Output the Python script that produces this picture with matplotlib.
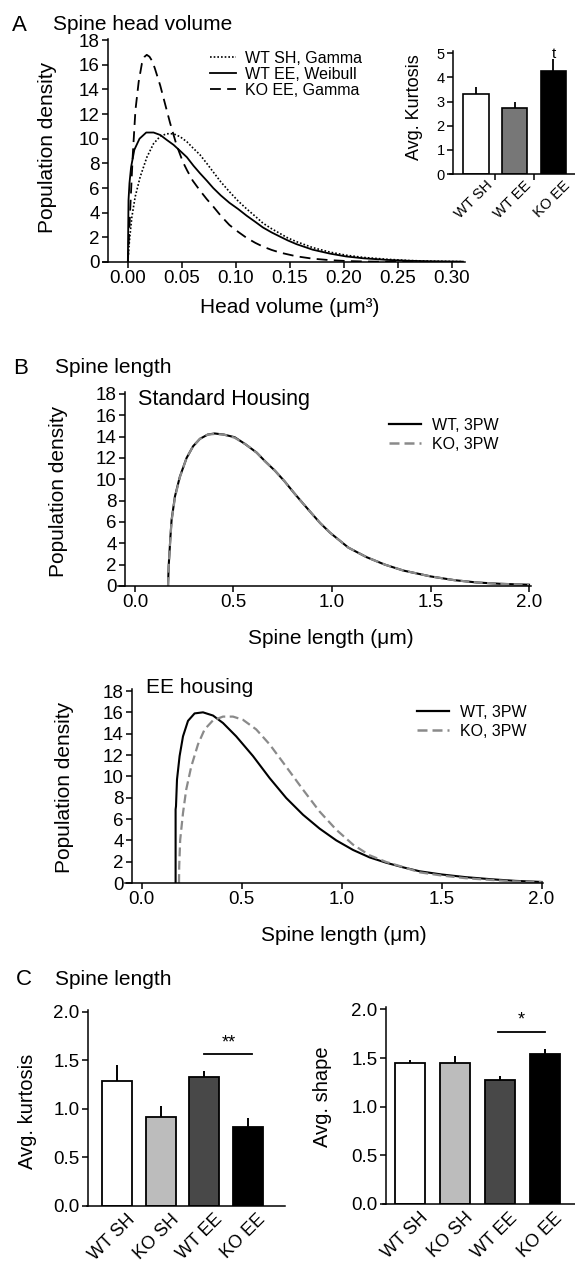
import matplotlib
matplotlib.use('Agg')
import matplotlib.pyplot as plt
from matplotlib.lines import Line2D
from matplotlib.transforms import ScaledTranslation

plt.rcParams['font.family'] = ['Liberation Sans', 'DejaVu Sans']
plt.rcParams['axes.linewidth'] = 1.1

# ---- Panel A: spine head volume densities ----
a_ko_x = [0, .002, .0045, .007, .010, .013, .0155, .0175, .020, .0225, .025, .0275,
          .030, .033, .036, .039, .042, .045, .048, .051, .055, .060, .0667, .073,
          .079, .086, .094, .102, .110, .118, .125, .133, .141, .156, .171, .187,
          .202, .220, .240, .260, .280]
a_ko_y = [0, 3.9, 8.6, 12.3, 14.6, 16.1, 16.65, 16.8, 16.65, 16.3, 15.7, 15.0,
          14.3, 13.3, 12.3, 11.3, 10.4, 9.5, 8.8, 8.1, 7.4, 6.6, 5.8, 5.1,
          4.5, 3.75, 3.0, 2.45, 1.95, 1.55, 1.25, 0.98, 0.76, 0.46, 0.27, 0.15,
          0.08, 0.04, 0.02, 0.01, 0.0]
a_wtee_x = [0, .0006, .0015, .003, .006, .0108, .017, .0238, .030, .036, .0423,
            .0485, .0546, .0608, .0667, .073, .079, .086, .094, .102, .110, .118,
            .125, .133, .141, .148, .156, .171, .187, .202, .218, .240, .260,
            .280, .310]
a_wtee_y = [0, 5.0, 6.4, 7.7, 9.1, 10.0, 10.5, 10.5, 10.3, 9.9, 9.5,
            9.0, 8.5, 7.8, 7.2, 6.6, 6.0, 5.4, 4.8, 4.3, 3.75, 3.25,
            2.8, 2.4, 2.05, 1.75, 1.45, 1.0, 0.68, 0.45, 0.3, 0.17, 0.1,
            0.06, 0.03]
a_wtsh_x = [0, .0015, .0037, .0068, .0114, .0176, .0238, .030, .0361, .0423, .0485,
            .0546, .0608, .0667, .073, .079, .086, .094, .102, .110, .118, .125,
            .133, .141, .148, .156, .171, .187, .202, .218, .240, .260, .280, .310]
a_wtsh_y = [0, 1.76, 3.65, 5.3, 6.9, 8.5, 9.6, 10.2, 10.4, 10.4, 10.15,
            9.75, 9.2, 8.7, 8.0, 7.3, 6.5, 5.7, 4.95, 4.3, 3.7, 3.15,
            2.7, 2.3, 1.95, 1.65, 1.17, 0.8, 0.55, 0.37, 0.22, 0.12, 0.07, 0.03]
a_labels = ['WT SH, Gamma', 'WT EE, Weibull', 'KO EE, Gamma']

# inset: average kurtosis
inset_cats = ['WT SH', 'WT EE', 'KO EE']
inset_vals = [3.30, 2.75, 4.27]
inset_errs = [0.29, 0.22, 0.50]
inset_mark = 't'

# ---- Panel B: spine length densities ----
sh_x = [0.168, 0.171, 0.18, 0.186, 0.203, 0.228, 0.262, 0.295, 0.33, 0.37, 0.404,
        0.45, 0.506, 0.56, 0.618, 0.66, 0.711, 0.76, 0.804, 0.85, 0.897, 0.94,
        0.99, 1.083, 1.176, 1.269, 1.362, 1.5, 1.62, 1.735, 1.86, 2.0]
sh_wt_y = [0, 1.8, 4.6, 6.2, 8.4, 10.25, 12.0, 13.1, 13.8, 14.2, 14.3,
           14.2, 13.95, 13.3, 12.5, 11.7, 10.8, 9.8, 8.8, 7.8, 6.8, 5.9,
           5.0, 3.6, 2.7, 2.0, 1.45, 0.9, 0.55, 0.33, 0.2, 0.12]
sh_ko_y = [0, 1.8, 4.5, 6.1, 8.3, 10.2, 12.0, 13.1, 13.8, 14.2, 14.25,
           14.2, 13.9, 13.3, 12.5, 11.7, 10.8, 9.8, 8.8, 7.8, 6.8, 5.9,
           5.0, 3.6, 2.7, 2.0, 1.45, 0.9, 0.55, 0.33, 0.2, 0.12]
ee_wt_x = [0.170, 0.170, 0.172, 0.177, 0.19, 0.207, 0.232, 0.265, 0.307, 0.357,
           0.407, 0.473, 0.557, 0.64, 0.723, 0.807, 0.89, 0.973, 1.057, 1.14,
           1.223, 1.307, 1.39, 1.5, 1.62, 1.75, 1.87, 2.0]
ee_wt_y = [0, 6.9, 7.2, 9.7, 11.9, 13.75, 15.2, 15.9, 16.0, 15.7,
           15.0, 13.75, 11.9, 9.84, 7.97, 6.4, 5.1, 4.0, 3.1, 2.4,
           1.9, 1.47, 1.1, 0.8, 0.55, 0.35, 0.2, 0.1]
ee_ko_x = [0.187, 0.188, 0.193, 0.207, 0.223, 0.248, 0.282, 0.315, 0.357, 0.407,
           0.457, 0.507, 0.573, 0.64, 0.723, 0.807, 0.89, 0.973, 1.057, 1.14,
           1.223, 1.307, 1.39, 1.5, 1.62, 1.75, 1.87, 2.0]
ee_ko_y = [0, 1.56, 4.06, 6.56, 8.75, 10.9, 13.0, 14.4, 15.25, 15.6,
           15.6, 15.3, 14.4, 13.0, 10.9, 8.75, 6.7, 5.0, 3.6, 2.6,
           1.97, 1.5, 1.0, 0.7, 0.45, 0.28, 0.15, 0.08]
b_labels = ['WT, 3PW', 'KO, 3PW']

# ---- Panel C: spine length kurtosis / shape ----
c_cats = ['WT SH', 'KO SH', 'WT EE', 'KO EE']
kurt_vals = [1.29, 0.91, 1.33, 0.81]
kurt_errs = [0.16, 0.12, 0.06, 0.09]
shape_vals = [1.445, 1.445, 1.27, 1.54]
shape_errs = [0.035, 0.075, 0.045, 0.05]
kurt_sig = (2.0, 3.1, 1.56, '**')     # x from, x to, height, mark
shape_sig = (1.96, 3.0, 1.77, '*')

c_colors = ['white', '#bcbcbc', '#484848', 'black']
inset_colors = ['white', '#777777', 'black']

W, H = 575, 1267
fig = plt.figure(figsize=(W / 100, H / 100), dpi=100)


def add_px_axes(left, top, right, bottom):
    return fig.add_axes([left / W, 1 - bottom / H, (right - left) / W, (bottom - top) / H])


def style(ax, spine_x, size=13.5):
    for s in ('top', 'right'):
        ax.spines[s].set_visible(False)
    ax.spines['left'].set_position(('data', spine_x))
    ax.tick_params(direction='out', length=4, width=1.1, labelsize=size, pad=2)


def rotate_cats(ax, labels, size, dx):
    ax.set_xticklabels(labels, rotation=45, ha='right', va='top',
                       rotation_mode='anchor', fontsize=size)
    off = ScaledTranslation(dx / 100, 0, fig.dpi_scale_trans)
    for lab in ax.get_xticklabels():
        lab.set_transform(lab.get_transform() + off)


# ---------------- Panel A ----------------
ax = add_px_axes(103, 38.8, 465, 262)
ax.plot(a_wtsh_x, a_wtsh_y, color='black', lw=1.2, ls=(0, (1, 1.2)))
ax.plot(a_wtee_x, a_wtee_y, color='black', lw=1.3)
ax.plot(a_ko_x, a_ko_y, color='black', lw=1.3, ls=(0, (6, 3.5)))
ax.set_xlim(-0.023, 0.312)
ax.set_ylim(0, 18.1)
style(ax, -0.0185)
ax.set_xticks([0, 0.05, 0.10, 0.15, 0.20, 0.25, 0.30])
ax.set_xticklabels(['%.2f' % v for v in ax.get_xticks()])
ax.set_yticks(range(0, 19, 2))
ax.set_ylabel('Population density', fontsize=15)
ax.yaxis.set_label_coords(-0.127, 0.515)
ax.set_xlabel('Head volume (μm³)', fontsize=15, va='top')
ax.xaxis.set_label_coords(0.517, -0.161)
hA = [Line2D([], [], color='black', lw=1.2, ls=(0, (1, 1.2))),
      Line2D([], [], color='black', lw=1.3),
      Line2D([], [], color='black', lw=1.3, ls=(0, (6, 3.5)))]
ax.legend(hA, a_labels, loc='upper left', bbox_to_anchor=(210 / W, 1 - 51 / H),
          bbox_transform=fig.transFigure, frameon=False, fontsize=11.5,
          handlelength=1.6, handletextpad=0.6, labelspacing=0.05,
          borderpad=0, borderaxespad=0)

# inset
ai = add_px_axes(450, 50.9, 575, 174)
xi = range(len(inset_cats))
ai.bar(xi, inset_vals, width=0.65, color=inset_colors, edgecolor='black', lw=1.2, zorder=2)
ai.errorbar(xi, inset_vals, yerr=[[0] * 3, inset_errs], fmt='none', ecolor='black',
            elinewidth=1.3, capsize=0, zorder=1)
ai.text(2, inset_vals[2] + inset_errs[2] - 0.1, inset_mark, ha='center', va='bottom', fontsize=11)
ai.set_xlim(-0.671, 2.555)
ai.set_ylim(0, 5.1)
style(ai, -0.594, size=10.5)
ai.set_yticks(range(0, 6))
ai.set_xticks(list(xi))
ai.tick_params(axis='x', which='major', length=0, pad=3)
ai.set_xticks([0.5, 1.5], minor=True)
ai.tick_params(axis='x', which='minor', length=4, width=1.1, direction='out')
rotate_cats(ai, inset_cats, 10.5, 9)
ai.set_ylabel('Avg. Kurtosis', fontsize=13)
ai.yaxis.set_label_coords(-0.216, 0.54)

fig.text(12 / W, 1 - 31 / H, 'A', fontsize=16, va='baseline')
fig.text(53 / W, 1 - 30 / H, 'Spine head volume', fontsize=15, va='baseline')

# ---------------- Panel B ----------------
hB = [Line2D([], [], color='black', lw=1.6),
      Line2D([], [], color='#8a8a8a', lw=1.8, ls=(0, (4, 2)))]

bt = add_px_axes(118, 392.4, 531, 586)
bt.plot(sh_x, sh_wt_y, color='black', lw=1.5)
bt.plot(sh_x, sh_ko_y, color='#8a8a8a', lw=1.6, ls=(0, (4, 2)))
bt.set_xlim(-0.086, 2.01)
bt.set_ylim(0, 18.15)
style(bt, -0.051)
bt.set_xticks([0, 0.5, 1.0, 1.5, 2.0])
bt.set_xticklabels(['%.1f' % v for v in bt.get_xticks()])
bt.set_yticks(range(0, 19, 2))
bt.set_ylabel('Population density', fontsize=15)
bt.yaxis.set_label_coords(-0.121, 0.49)
bt.set_xlabel('Spine length (μm)', fontsize=15, va='top')
bt.xaxis.set_label_coords(0.516, -0.222)
bt.legend(hB, b_labels, loc='upper left', bbox_to_anchor=(389 / W, 1 - 418 / H),
          bbox_transform=fig.transFigure, frameon=False, fontsize=11.5,
          handlelength=2.0, handletextpad=0.7, labelspacing=0.25,
          borderpad=0, borderaxespad=0)
fig.text(138 / W, 1 - 405 / H, 'Standard Housing', fontsize=15.5, va='baseline')

bb = add_px_axes(125, 689.4, 543, 883)
bb.plot(ee_wt_x, ee_wt_y, color='black', lw=1.5)
bb.plot(ee_ko_x, ee_ko_y, color='#8a8a8a', lw=1.6, ls=(0, (4, 2)))
bb.set_xlim(-0.083, 2.007)
bb.set_ylim(0, 18.15)
style(bb, -0.048)
bb.set_xticks([0, 0.5, 1.0, 1.5, 2.0])
bb.set_xticklabels(['%.1f' % v for v in bb.get_xticks()])
bb.set_yticks(range(0, 19, 2))
bb.set_ylabel('Population density', fontsize=15)
bb.yaxis.set_label_coords(-0.122, 0.496)
bb.set_xlabel('Spine length (μm)', fontsize=15, va='top')
bb.xaxis.set_label_coords(0.523, -0.222)
bb.legend(hB, b_labels, loc='upper left', bbox_to_anchor=(417 / W, 1 - 705 / H),
          bbox_transform=fig.transFigure, frameon=False, fontsize=11.5,
          handlelength=2.0, handletextpad=0.7, labelspacing=0.25,
          borderpad=0, borderaxespad=0)
fig.text(146 / W, 1 - 693 / H, 'EE housing', fontsize=15, va='baseline')

fig.text(13 / W, 1 - 374 / H, 'B', fontsize=16, va='baseline')
fig.text(55 / W, 1 - 373 / H, 'Spine length', fontsize=15, va='baseline')

# ---------------- Panel C ----------------
def bar_panel(box, vals, errs, sig, ylabel, lim, spine_x, width, lab_xy):
    axc = add_px_axes(*box)
    xc = range(len(c_cats))
    axc.bar(xc, vals, width=width, color=c_colors, edgecolor='black', lw=1.3, zorder=2)
    axc.errorbar(xc, vals, yerr=[[0] * len(vals), errs], fmt='none', ecolor='black',
                 elinewidth=1.4, capsize=0, zorder=1)
    axc.plot(sig[:2], [sig[2], sig[2]], color='black', lw=1.3)
    axc.text(sum(sig[:2]) / 2, sig[2] + 0.03, sig[3], ha='center', va='bottom', fontsize=13)
    axc.set_xlim(*lim)
    axc.set_ylim(0, 2.02)
    style(axc, spine_x)
    axc.set_yticks([0, 0.5, 1.0, 1.5, 2.0])
    axc.set_yticklabels(['%.1f' % v for v in axc.get_yticks()])
    axc.set_xticks(list(xc))
    axc.tick_params(axis='x', length=0, pad=4)
    rotate_cats(axc, c_cats, 13, 9)
    axc.set_ylabel(ylabel, fontsize=14.5)
    axc.yaxis.set_label_coords(*lab_xy)
    return axc


bar_panel((87, 1009.8, 285, 1205.7), kurt_vals, kurt_errs, kurt_sig, 'Avg. kurtosis',
          (-0.701, 3.851), -0.678, 0.69, (-0.2525, 0.483))
bar_panel((383, 1007.4, 575, 1204), shape_vals, shape_errs, shape_sig, 'Avg. shape',
          (-0.6, 3.667), -0.54, 0.667, (-0.266, 0.547))

fig.text(16 / W, 1 - 985 / H, 'C', fontsize=16, va='baseline')
fig.text(55 / W, 1 - 985 / H, 'Spine length', fontsize=15, va='baseline')

fig.savefig('out.png', dpi=100)
